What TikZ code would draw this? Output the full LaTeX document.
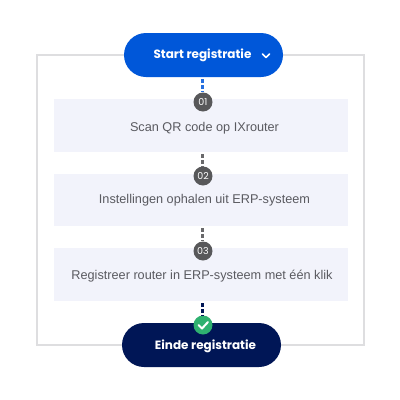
\documentclass[tikz,border=0pt]{standalone}
\usepackage{fontspec}
\setmainfont{Liberation Sans}
\newfontfamily\pillfont{Poppins}
\usetikzlibrary{calc}
\definecolor{startblue}{HTML}{0057D9}
\definecolor{endnavy}{HTML}{001656}
\definecolor{framegrey}{HTML}{DEDEE0}
\definecolor{stepfill}{HTML}{F2F3FB}
\definecolor{badgegrey}{HTML}{58585A}
\definecolor{steptext}{HTML}{5A5A60}
\definecolor{checkgreen}{HTML}{2FB170}
\tikzset{
  pill/.style={rounded corners=22pt,minimum width=159pt,minimum height=44pt,inner sep=0pt},
  pilltext/.style={inner sep=0pt,text=white,font=\pillfont\bfseries\fontsize{12}{14}\selectfont},
  stepbox/.style={fill=stepfill,minimum width=294pt,minimum height=52.5pt,inner sep=0pt},
  steplabel/.style={inner sep=0pt,text=steptext,font=\fontsize{12.7}{15}\selectfont},
  badge/.style={circle,fill=badgegrey,minimum size=19pt,inner sep=0pt,text=white,font=\pillfont\fontsize{9.5}{10}\selectfont},
  dashline/.style={line width=2.4pt,dash pattern=on 4pt off 2pt},
}
\begin{document}
\begin{tikzpicture}[x=1pt,y=-1pt]
\useasboundingbox[fill=white] (0,0) rectangle (400,400);
\draw[framegrey,line width=1.3pt] (37,55) rectangle (364,345);
\node[stepbox] (s1) at (201,125.5) {};
\node[stepbox] (s2) at (201,200) {};
\node[stepbox] (s3) at (201,274.5) {};
\node[steplabel] (t1) at (204.5,128) {Scan QR code op IXrouter};
\node[steplabel] (t2) at (204.5,200.5) {Instellingen ophalen uit ERP-systeem};
\node[steplabel] (t3) at (202,276) {Registreer router in ERP-systeem met één klik};
\node[pill,fill=startblue] (start) at (203.5,55) {};
\node[pill,fill=endnavy] (end) at (201.5,345) {};
\node[pilltext] (st) at (202.5,55.5) {Start registratie};
\node[pilltext] (et) at (205.5,346.5) {Einde registratie};
\node[badge] (b1) at (203,102) {01};
\node[badge] (b2) at (203,176) {02};
\node[badge] (b3) at (203,251) {03};
\node[circle,fill=checkgreen,minimum size=19pt,inner sep=0pt] (b4) at (203,325) {};
\coordinate (c1) at (202.4,79);
\coordinate (c2) at (202.4,154);
\coordinate (c3) at (202.4,228);
\coordinate (c4) at (202.4,303);
\draw[dashline,startblue!85!white] (c1) -- (c1 |- b1.north);
\draw[dashline,badgegrey!90!white] (c2) -- (c2 |- b2.north);
\draw[dashline,badgegrey!90!white] (c3) -- (c3 |- b3.north);
\draw[dashline,endnavy] (c4) -- (c4 |- b4.north);
\draw[white,line width=1.6pt,line cap=round,line join=round] (262.5,54) -- (266,57.5) -- (269.5,54);
\draw[white,line width=2pt,line cap=round,line join=round] (198.5,325) -- (202,328.5) -- (208,322);
\end{tikzpicture}
\end{document}
